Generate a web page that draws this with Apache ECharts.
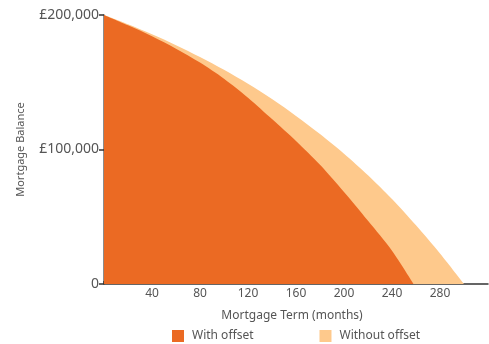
<!DOCTYPE html>
<html>
<head>
<meta charset="utf-8">
<script src="https://cdn.jsdelivr.net/npm/echarts@6/dist/echarts.min.js"></script>
<style>
  html, body { margin: 0; padding: 0; background: #fff; }
  #chart { width: 489px; height: 344px; }
</style>
</head>
<body>
<div id="chart"></div>
<script>
// months along the term
var months = [0, 20, 40, 60, 80, 100, 120, 140, 160, 180, 200, 220, 240, 260, 280, 300];
// balance without offset (light)
var withoutOffset = [200000, 193100, 185700, 177600, 168800, 159300, 148900, 137500, 125000, 111500, 96900, 80900, 63200, 43600, 22700, 0];
// balance with offset (dark), finishes around month 258
var withMonths = [0, 20, 40, 60, 80, 100, 120, 140, 160, 180, 200, 220, 240, 258];
var withOffset = [200000, 192300, 184200, 175000, 164600, 152600, 138500, 122600, 106300, 88600, 68400, 47000, 24800, 0];

var yTicks = { 0: '0', 100000: '£100,000', 200000: '£200,000' };
var legendNames = ['With offset', 'Without offset'];

var cFont = 'Noto Sans';
var cText = '#555';

function pairs(aX, aY) {
    var aOut = [];
    for (var i = 0; i < aX.length; i++) {
        aOut.push([aX[i], aY[i]]);
    }
    return aOut;
}

var oChart = echarts.init(document.getElementById('chart'));

var oOption = {
    animation: false,
    textStyle: { fontFamily: cFont },
    legend: {
        data: legendNames,
        left: 172,
        top: 330,
        padding: 0,
        itemWidth: 12,
        itemHeight: 12,
        itemGap: 66,
        icon: 'rect',
        textStyle: { color: cText, fontSize: 12, fontFamily: cFont, padding: [0, 0, 0, 3] }
    },
    grid: [
        { left: 104, right: 1, top: 15, bottom: 60 },
        { left: 104, width: 336, top: 15, bottom: 60 }
    ],
    xAxis: [
        {
            type: 'value',
            gridIndex: 0,
            min: 0,
            max: 320,
            interval: 20,
            name: 'Mortgage Term (months)',
            nameLocation: 'middle',
            nameGap: 26,
            nameTextStyle: { color: cText, fontSize: 12, fontFamily: cFont, padding: [0, 8, 0, 0] },
            axisLine: { show: true, lineStyle: { color: '#333', width: 1.5 } },
            axisTick: { show: false },
            axisLabel: { show: false },
            splitLine: { show: false }
        },
        {
            type: 'value',
            gridIndex: 1,
            min: 0,
            max: 280,
            interval: 20,
            axisLine: { show: false },
            axisTick: { show: true, inside: true, length: 3, lineStyle: { color: '#333', width: 1.5 } },
            axisLabel: {
                color: cText,
                fontSize: 12,
                fontFamily: cFont,
                margin: 4,
                formatter: function (v) {
                    return (v > 0 && v % 40 === 0) ? String(v) : '';
                }
            },
            splitLine: { show: false }
        }
    ],
    yAxis: [
        {
            type: 'value',
            gridIndex: 0,
            min: 0,
            max: 200000,
            interval: 100000,
            name: 'Mortgage Balance',
            nameLocation: 'middle',
            nameGap: 78,
            nameTextStyle: { color: cText, fontSize: 11, fontFamily: cFont },
            axisLine: { show: true, lineStyle: { color: '#666', width: 1.5 } },
            axisTick: { show: true, length: 5, lineStyle: { color: '#333', width: 1.5 } },
            axisLabel: {
                color: cText,
                fontSize: 14,
                fontFamily: cFont,
                margin: 5,
                formatter: function (v) { return yTicks[v] || ''; }
            },
            splitLine: { show: false }
        },
        {
            type: 'value',
            gridIndex: 1,
            min: 0,
            max: 200000,
            show: false
        }
    ],
    series: [
        {
            name: 'Without offset',
            type: 'line',
            xAxisIndex: 0,
            yAxisIndex: 0,
            data: pairs(months, withoutOffset),
            smooth: 0.3,
            symbol: 'none',
            lineStyle: { width: 0 },
            itemStyle: { color: '#FEC98C' },
            areaStyle: { color: '#FEC98C', opacity: 1 },
            z: 1
        },
        {
            name: 'With offset',
            type: 'line',
            xAxisIndex: 0,
            yAxisIndex: 0,
            data: pairs(withMonths, withOffset),
            smooth: 0.3,
            symbol: 'none',
            lineStyle: { width: 0 },
            itemStyle: { color: '#EB6A23' },
            areaStyle: { color: '#EB6A23', opacity: 1 },
            z: 2
        }
    ]
};

oChart.setOption(oOption);
</script>
</body>
</html>
